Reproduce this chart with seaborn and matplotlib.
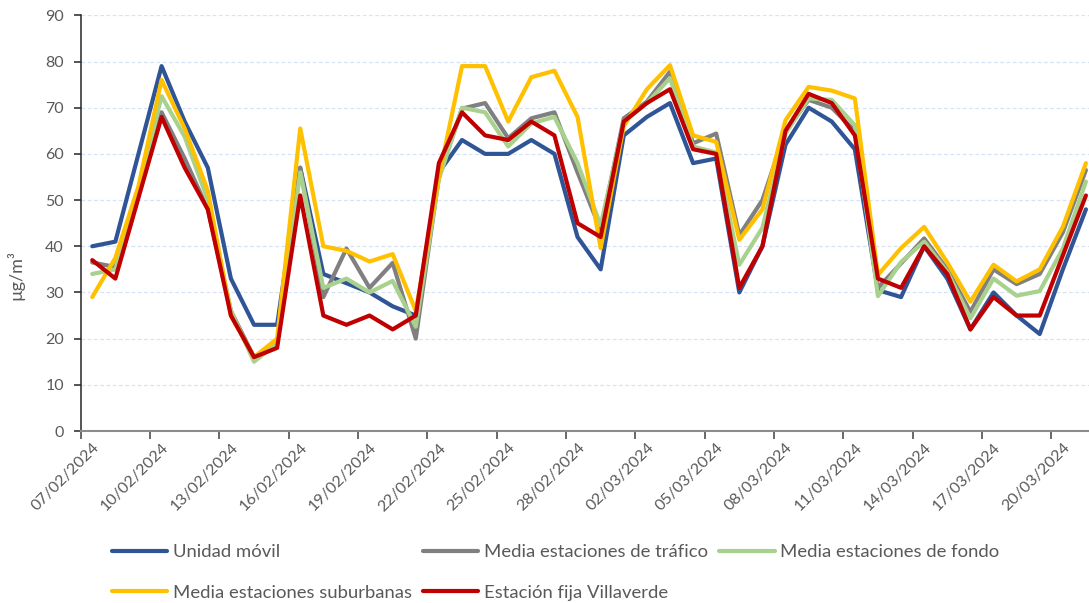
import matplotlib
matplotlib.use("Agg")
import matplotlib.pyplot as plt
import pandas as pd
import seaborn as sns

sns.set_theme(style="white")
plt.rcParams["font.family"] = ["Lato", "DejaVu Sans"]

# ── Datos (µg/m³ diarios) ──────────────────────────────────────────────────
fechas = pd.date_range("2024-02-07", periods=44, freq="D")

unidad_movil = [40, 41, 60, 79, 67, 57, 33, 23, 23, 57, 34, 32, 30, 27, 25,
                56, 63, 60, 60, 63, 60, 42, 35, 64, 68, 71, 58, 59, 30, 40,
                62, 70, 67, 61, 30.5, 29, 40, 33, 22, 30, 25, 21, 35, 48]
trafico = [36.5, 35.5, 52, 69, 59, 48, 26, 16, 19, 57, 29, 39.5, 31, 36.4, 20,
           55, 69.8, 71, 63.4, 67.7, 69, 56, 43.5, 67.7, 71.3, 77.8, 62.3, 64.4,
           42.4, 50, 65, 71.7, 70, 65, 31, 36.3, 41.7, 35, 25.8, 35, 31.8, 34,
           43, 56.5]
fondo = [34, 35, 52, 72.5, 63.7, 50, 26, 15, 19, 56, 31, 33, 30, 32.5, 22.6,
         54.5, 70, 69, 61.6, 66.6, 68, 58, 44.5, 67, 71, 76.4, 61.6, 60.3, 36,
         44, 64.4, 72, 71.7, 66.2, 29.2, 36.6, 41, 34.5, 24.4, 33, 29.3, 30.3,
         39.5, 54]
suburbanas = [29, 37.5, 53, 76, 65.5, 52, 25, 16, 20, 65.5, 40, 39, 36.7, 38.3,
              26, 55, 79, 79, 67, 76.6, 78, 68, 39.6, 66, 74, 79.2, 64, 62.6,
              41.4, 48, 67.3, 74.5, 73.7, 72, 33.8, 39.6, 44.2, 36.5, 28, 36,
              32.4, 35, 44.2, 58]
villaverde = [37, 33, 50.5, 68, 57, 48, 25, 16, 18, 51, 25, 23, 25, 22, 25,
              58, 69, 64, 63, 67, 64, 45, 42, 67, 71, 74, 61, 60, 31, 40,
              65, 73, 71, 64, 33, 31, 40, 34, 22, 29, 25, 25, 38, 51]

series = {
    "Unidad móvil": unidad_movil,
    "Media estaciones de tráfico": trafico,
    "Media estaciones de fondo": fondo,
    "Media estaciones suburbanas": suburbanas,
    "Estación fija Villaverde": villaverde,
}
colores = {
    "Unidad móvil": "#2F5597",
    "Media estaciones de tráfico": "#808080",
    "Media estaciones de fondo": "#A9D18E",
    "Media estaciones suburbanas": "#FFC000",
    "Estación fija Villaverde": "#C00000",
}

df = pd.DataFrame(series)
df["dia"] = range(len(fechas))
df_long = df.melt(id_vars="dia", var_name="serie", value_name="valor")

# ── Figura ─────────────────────────────────────────────────────────────────
fig = plt.figure(figsize=(10.89, 6.03), dpi=100)
ax = fig.add_axes([0.0741, 0.2852, 0.9337, 0.6894])

sns.lineplot(data=df_long, x="dia", y="valor", hue="serie",
             hue_order=list(series.keys()), palette=colores,
             linewidth=3, ax=ax)

ax.set_xlim(-0.5, len(fechas) - 0.5)
ax.set_ylim(0, 90)
ax.set_yticks(range(0, 91, 10))
ax.yaxis.grid(True, color="#D5E3F5", linestyle=(0, (3, 2)), linewidth=0.9)
ax.xaxis.grid(False)

# ticks en los límites de categoría, etiquetas en el centro
limites = [i - 0.5 for i in range(0, len(fechas), 3)]
centros = list(range(0, len(fechas), 3))
ax.set_xticks(limites)
ax.set_xticklabels([])
ax.set_xticks(centros, minor=True)
ax.set_xticklabels([fechas[i].strftime("%d/%m/%Y") for i in centros],
                   minor=True, rotation=45, ha="right", rotation_mode="anchor")
ax.tick_params(axis="x", which="major", length=6, width=1.1,
               color="#404040", direction="out", bottom=True)
ax.tick_params(axis="x", which="minor", length=0, pad=7,
               labelsize=11.5, labelcolor="#595959")
ax.tick_params(axis="y", length=5, width=1.1, color="#262626",
               direction="out", left=True, pad=7,
               labelsize=11.5, labelcolor="#595959")

for lado in ("top", "right"):
    ax.spines[lado].set_visible(False)
ax.spines["left"].set_color("#262626")
ax.spines["left"].set_linewidth(1.1)
ax.spines["bottom"].set_color("#8C8C8C")
ax.spines["bottom"].set_linewidth(1.5)

ax.set_xlabel("")
ax.set_ylabel("µg/m³", fontsize=13, color="#595959")
ax.yaxis.set_label_coords(-0.055, 0.375)

# leyenda en filas (matplotlib rellena por columnas, así que se reordena)
handles, labels = ax.get_legend_handles_labels()
ax.get_legend().remove()
orden = [0, 3, 1, 4, 2]
leg = fig.legend([handles[i] for i in orden], [labels[i] for i in orden],
                 loc="upper left", bbox_to_anchor=(112 / 1089, 1 - 544 / 603),
                 ncol=3, frameon=False, fontsize=13.3, borderpad=0,
                 borderaxespad=0, handlelength=3.0, handletextpad=0.3,
                 columnspacing=0.6, labelspacing=1.35, labelcolor="#595959")
for linea in leg.get_lines():
    linea.set_linewidth(3)

fig.savefig("out.png", dpi=100)
